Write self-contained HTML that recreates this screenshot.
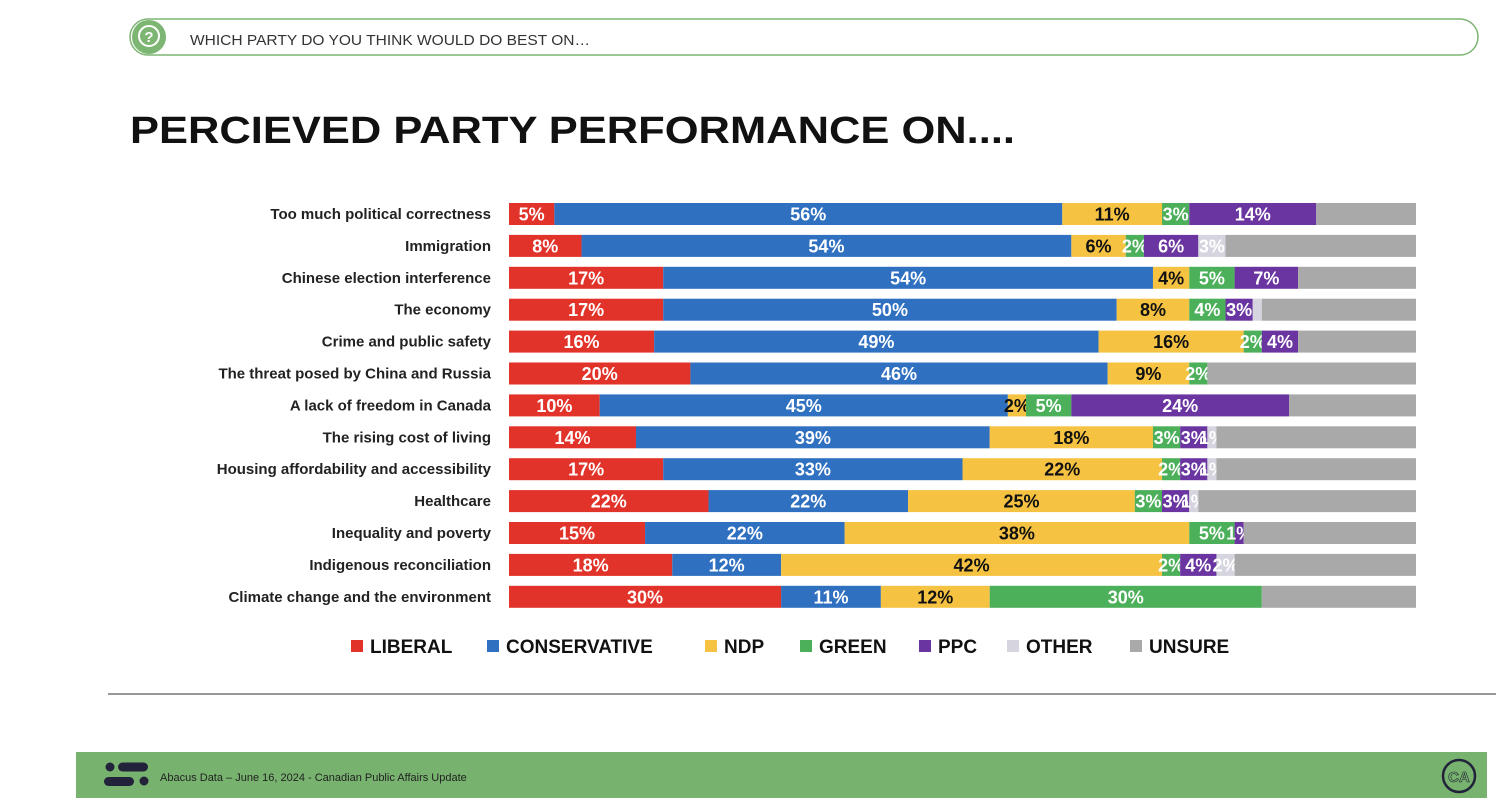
<!DOCTYPE html>
<html><head><meta charset="utf-8"><style>
body{margin:0;background:#fff;font-family:"Liberation Sans",sans-serif}
svg{display:block}
</style></head><body>
<svg width="1496" height="810" viewBox="0 0 1496 810" xmlns="http://www.w3.org/2000/svg" font-family="Liberation Sans, sans-serif">
<g>
<rect x="130" y="19" width="1348" height="36" rx="18" fill="#fff" stroke="#7db572" stroke-width="1.5"/>
<circle cx="149" cy="37" r="17" fill="#7db572"/>
<circle cx="149" cy="36" r="10" fill="none" stroke="#fff" stroke-width="2"/>
<text x="149" y="42" font-size="15" font-weight="bold" fill="#fff" text-anchor="middle">?</text>
<text x="190" y="45" font-size="15" fill="#333" textLength="400" lengthAdjust="spacingAndGlyphs">WHICH PARTY DO YOU THINK WOULD DO BEST ON…</text>
</g>
<text x="130" y="143" font-size="38" font-weight="bold" fill="#111" textLength="885" lengthAdjust="spacingAndGlyphs">PERCIEVED PARTY PERFORMANCE ON....</text>
<g id="chart"></g>
<g id="legend"></g>
<line x1="108" y1="694" x2="1496" y2="694" stroke="#777" stroke-width="1.5"/>
<g>
<rect x="76" y="752" width="1411" height="46" fill="#77b36e"/>
<circle cx="110" cy="767" r="4.5" fill="#22223a"/>
<rect x="118" y="762.5" width="30" height="9" rx="4.5" fill="#22223a"/>
<rect x="104" y="777" width="30" height="9" rx="4.5" fill="#22223a"/>
<circle cx="144" cy="781" r="4.5" fill="#22223a"/>
<text x="160" y="781" font-size="11" fill="#222">Abacus Data – June 16, 2024 - Canadian Public Affairs Update</text>
<circle cx="1459" cy="776" r="16" fill="none" stroke="#22223a" stroke-width="2.5"/>
<text x="1459" y="782" font-size="15" font-weight="bold" fill="#77b36e" stroke="#22223a" stroke-width="0.6" text-anchor="middle">CA</text>
</g>
</svg>
<script>
const categories=["Too much political correctness","Immigration","Chinese election interference","The economy","Crime and public safety","The threat posed by China and Russia","A lack of freedom in Canada","The rising cost of living","Housing affordability and accessibility","Healthcare","Inequality and poverty","Indigenous reconciliation","Climate change and the environment"];
const liberal=[5,8,17,17,16,20,10,14,17,22,15,18,30];
const conservative=[56,54,54,50,49,46,45,39,33,22,22,12,11];
const ndp=[11,6,4,8,16,9,2,18,22,25,38,42,12];
const green=[3,2,5,4,2,2,5,3,2,3,5,2,30];
const ppc=[14,6,7,3,4,0,24,3,3,3,1,4,0];
const other=[0,3,0,1,0,0,0,1,1,1,0,2,0];
const unsure=[11,21,13,17,13,23,14,22,22,24,19,20,17];
const seriesNames=["LIBERAL","CONSERVATIVE","NDP","GREEN","PPC","OTHER","UNSURE"];
const NS="http://www.w3.org/2000/svg";
const colors=["#e2332a","#2f70c0","#f5c242","#4caf5a","#6a35a0","#d6d4de","#a9a9a9"];
const labelColors=["#fff","#fff","#111","#fff","#fff","#fff",null];
const X0=509,X1=1416,Y0=214,ROW=31.9,BH=22;
const series=[liberal,conservative,ndp,green,ppc,other,unsure];
const chart=document.getElementById('chart');
function mk(t,a){const e=document.createElementNS(NS,t);for(const k in a)e.setAttribute(k,a[k]);return e;}
function yPos(i){return Y0+i*ROW;}
categories.forEach((c,i)=>{
  let tot=0;series.forEach(s=>tot+=s[i]);
  const sx=v=>v/tot*(X1-X0);
  const yc=yPos(i);
  const lab=mk('text',{x:491,y:yc+5,'font-size':15,'font-weight':'bold',fill:'#222','text-anchor':'end'});
  lab.textContent=c;
  
  
  chart.appendChild(lab);
  let acc=0;
  series.forEach((s,k)=>{
    const v=s[i];if(v<=0)return;
    const x=X0+sx(acc),w=sx(v);
    const r=mk('rect',{x:x,y:yc-BH/2,width:w,height:BH,fill:colors[k]});
    
    
    chart.appendChild(r);
    if(labelColors[k]&&v>=1&&!(k===5&&i===3)){
      const t=mk('text',{x:x+w/2,y:yc+6.5,'font-size':18,'font-weight':'bold',fill:labelColors[k],'text-anchor':'middle'});
      t.textContent=v+'%';
      
      
      chart.appendChild(t);
    }
    acc+=v;
  });
});
const legend=document.getElementById('legend');
const lx=[351,487,705,800,919,1007,1130];
seriesNames.forEach((n,k)=>{
  const g=mk('g',{});
  
  
  g.appendChild(mk('rect',{x:lx[k],y:640,width:12,height:12,fill:colors[k]}));
  const t=mk('text',{x:lx[k]+19,y:653,'font-size':19,'font-weight':'bold',fill:'#111'});
  t.textContent=n;
  g.appendChild(t);
  legend.appendChild(g);
});
</script>
</body></html>
